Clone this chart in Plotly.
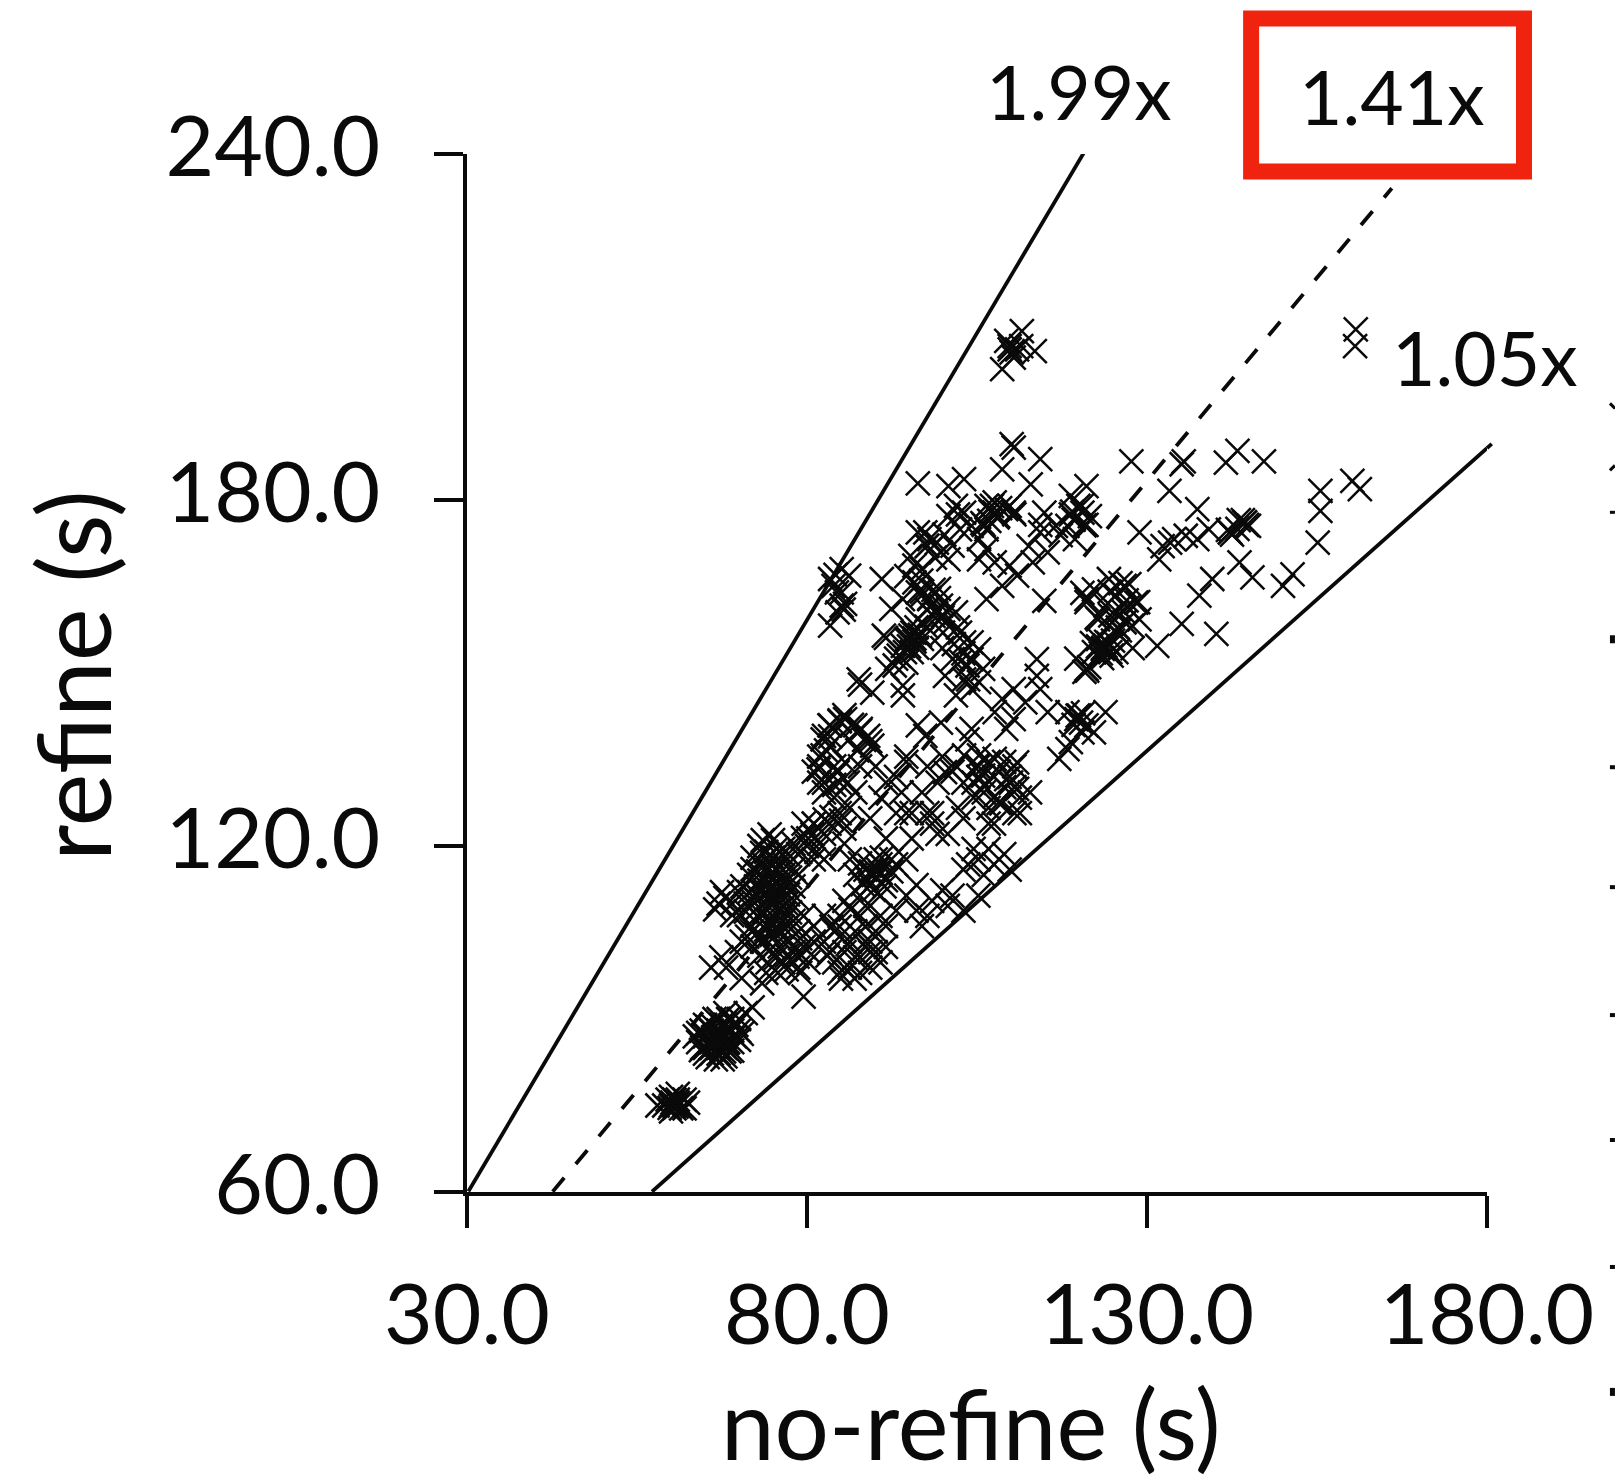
import plotly.graph_objects as go

x_ticks = [30, 80, 130, 180]
y_ticks = [60, 120, 180, 240]
ratios = [1.99, 1.41, 1.05]
ratio_labels = ["1.99x", "1.41x", "1.05x"]

no_refine = [
 111.6,109.8,110.9,110.1,113.5,108.7,110.4,109.3,111.5,109.8,160.7,160.6,
 110.1,110.4,108.7,114.3,127.7,135.4,135.1,141.6,143.3,147.2,96.3,100.8,103.1,112.9,121.1,118.8,133.3,160.2,161.3,155.5,155.5,155.1,137.4,151.4,150,145.5,143.6,144.4,142.2,139.6,137.7,135.1,140.2,131.5,128.9,
 133.4,131.8,135.7,132.3,134,137.4,139.1,
 144.4,144.7,144.1,142.2,142.5,141.9,143.3,145,143.5,
 123.9,123.5,124.3,124.6,125.5,122.8,122.2,121.1,120.8,121.5,121.2,
 121.1,122.2,124.4,126.7,128.4,125.6,123.9,126.7,127.8,124.4,125.6,126.1,120.5,128.9,122.8,
 106.4,107.6,109.3,110.4,106.4,105.3,108.1,109.8,107.6,97.4,98,99.7,96.3,99.1,100.8,103.1,100.8,102.5,104.2,101.9,
 105.3,106.4,107.6,109.8,110.9,108.7,106.4,114.3,114.9,115.4,113.2,112.6,116.6,120.5,119.9,118.3,121.6,119.4,114.9,
 96.3,98,99.7,100.8,98.6,100.3,102.5,104.2,95.8,96.9,95.2,95.8,101.9,94.1,92.4,96.3,95.2,94.8,95.8,95.5,95.8,94.1,93.5,96.9,91.3,92.9,94.6,91,
 85.1,83.9,85.1,83.4,85.1,85.4,83.4,84.5,86.2,
 103.1,105.3,104.2,105.9,100.3,103.1,104.2,101.4,105.3,101.9,103.6,
 87.6,89.6,94.1,91.8,94.1,96.3,99.7,97.4,
 113.8,113.8,114.3,110.4,108.7,112.1,115.4,109.3,107.6,110.4,120,119.6,120.3,118.3,121.1,123.9,122.2,118.8,117.1,120.5,118.3,
 103.6,104.2,105.3,101.9,100.3,107.6,110.9,109.3,105.9,103.1,110.9,
 83.4,85.6,87.9,82.3,83.4,86.2,89,82.3,85.6,89.6,84.5,81.7,
 106.7,110.5,105.2,109,104.5,111.3,106.7,110.5,103,112.8,107.5,108.2,
 97.7,94.6,91.6,93.9,99.2,101.4,98.4,97.7,99.2,93.1,90.8,103,95.4,
 105.2,106.7,103.7,107.5,103,109,106,104.5,109.8,
 89.8,88.6,90.8,89.3,91.6,87.1,93.1,87.8,94.6,90.8,90.1,86.3,
 96.1,98.4,100.7,103,97.7,99.9,94.6,93.1,101.4,105.2,96.9,
 84.8,87.1,89.3,85.5,87.8,90.1,84,86.3,89.3,91.6,82.5,84.8,87.8,90.8,85.5,82.5,88.6,84.8,91.6,
 74.2,76.5,78.7,75,78,76.5,73.4,79.5,75.7,81,71.9,77.2,74.2,78.7,80.2,72.7,79.5,
 74,75,73,76,74.5,73.5,75.5,76.5,72.5,77,74,75,73,76,74,75,72.5,77,78,78,73,76,75,72,74.5,
 69,68,70,67,69,67.5,71,70,66.5,
 68.1,65.9,69.7,71.2,67.4,73.4,70.4,79.5,
 64,65,66,67,68,69,66,67,68,65,64.5,66,67,68,69,66,67,65,70,70,71,69,68,63.5,66,67,68,65,69,72,
 60,61,60.5,61.5,60,59,62,58,61,60.5,62,60.5,
 80.2,78.7,81.8,81,79.5,83.3,84.8,86.3,84,87.1,82.5,81,78,85.5,76.5,89.3,82.5,84,81.8,88.6,87.8,83.3,85.5,87.8,
]
refine = [
 209.3,206.1,206.1,205.6,205.8,202.7,204.7,207.6,206.7,206.7,209.6,206.7,
 189.7,189.1,185.3,187.1,186.7,186.7,186.2,186.5,188.5,186.7,182.9,182.4,183.6,182.7,182.4,180.7,181.6,183.3,181.9,181.6,178.1,172.6,178.4,167.1,165.1,166.6,169.2,176.1,174.4,166.3,163.4,158.5,156.8,154.7,174.4,
 172.6,169.7,173.8,172,173.2,173.2,174.9,
 176.1,175.7,176.5,174.4,174,174.8,175,175.5,176.5,
 154.7,154.2,155.2,153.6,153.6,155.9,153.6,150.7,150.2,151,150.4,
 162.8,164.5,166.3,165.1,162.2,160.5,161.7,158.8,158.2,158.2,157,165.6,163.9,159.3,159.3,
 179,177.8,178.4,177.8,174.9,173.2,177.2,179,179.6,174.4,173.2,170.9,174.4,172.6,169.7,177.8,177.2,174.9,175.5,179,
 169.7,171.5,169.2,168.6,166.9,165.1,162.8,174.4,177.8,170.9,169.2,172,175.5,177.8,179,175.5,177.2,173.2,162.5,
 164,162.8,161.7,161.1,159.9,158.8,157,155.3,165.7,168,170.3,168.6,160.5,162.8,161.1,159.3,156.5,156,155.5,157,157,154.7,153,155.9,156.5,151.3,151.8,166.3,
 168,165.1,164,166.3,161.7,161,158.2,160.5,166.9,
 155.3,154.1,152.4,150.7,149.5,148.9,147.2,152.4,148.4,146.1,151.3,
 148.9,146.6,147.8,150.7,146.1,140.9,141.4,139.1,
 152.4,149.5,147.2,147.2,145.5,144.9,143.2,140.3,143.2,142,142.6,142,141.4,143.2,140.9,143.2,139.7,138,135.1,139.7,136.8,
 138.5,140.3,135.7,133.9,132.8,135.1,134.5,131.6,132.2,135.7,129.9,
 140.9,142,140.3,138.5,137.4,138.5,139.1,135.7,134.5,137.4,132.8,133.3,
 134.6,133.8,132,130.2,128.4,128.4,126.6,125.7,131,129.3,123.9,132.9,
 133.8,134.6,131,129.3,131,132.9,123.9,125.7,122.1,125.7,128.4,124.8,125.7,
 117.7,119.5,116.8,116.8,115.9,118.6,115,119.5,115.9,
 115,115.9,116.8,113.2,114.1,115,116.8,111.4,117.7,111.4,117.7,117.7,
 108.8,110.5,109.6,108.8,107.9,112.3,111.4,108.8,111.4,111.4,106.1,
 104.3,105.2,103.4,101.6,100.7,101.6,99.8,98.9,98.9,106.1,103.4,107.9,107.9,107.9,110.5,107.9,109.6,98,102.5,
 106.1,104.3,105.2,102.5,101.6,99.8,103.4,102.5,107,106.1,105.2,106.1,99.8,98.9,99.8,107.9,107.9,
 112,113,111,112,115,117,116,115,113,113,119,118,114,110,109,110,109,110,113,116,120,119,121,116,107,
 110,111,112,110,108,112,110,108,109,
 98.9,98.9,101.6,104.3,100.7,96.2,97.1,93.9,
 86,85,84,84,85,86,86,86,87,87,88,88,88,89,88,89,90,89,88,90,91,90,91,87,85,85,83.5,84,84.5,92,
 75,75.5,76,74.5,74,75,76,75,77,74.5,74.5,75,
 121.3,118.6,120.4,117.7,123.9,123.9,125.7,126.6,128.4,129.3,122.1,123.9,120.4,123,119.5,124.8,131,133.8,133.8,135.5,140,140.9,142.7,148,
]
# further readings inside the dense clusters, as (no-refine, refine)
dense_pairs = [
 (70.5,113),(71.5,115),(72,118),(73.5,121),(74.5,122),(75.5,119.5),(76.5,117),(77.5,114.5),(78.5,111),(77.5,108.5),
 (76.5,107),(75.5,106),(74,105.5),(73,107.5),(72,110.5),(71.5,112),(73.2,112.4),(74.2,113.6),(75.2,114.4),(73.8,116),
 (74.8,116.6),(75.8,111.4),(76.8,113.8),(72.8,115.6),(74.4,110.6),(75.6,108.8),(73.6,108.6),(76.2,109),(77.2,111.6),
 (74.6,118.4),(73.4,118.8),(75.4,117.2),(76.4,118.6),(72.4,111.8),(71,108.6),(74.6,112.2),(73.8,114),(75,115.4),(74.2,111),(75.8,113),
 (73,101),(74.8,104.6),(76,102.6),(77.4,103.6),(78.6,100.8),(75.4,100.6),(77,98.6),(72,102.6),(79,104),(80,102),(74,98),(76.4,106),(78,107),
 (72.6,104.8),(75.8,105),(77,101),(74.4,101.8),(79,98),
 (64.6,85),(65.6,86),(66.4,87),(67.4,87),(68.4,86),(69.4,87),(66.6,85.6),(67.6,85.6),(65.4,88.6),(66.4,90),(67.4,89),(68.6,88),(69.6,89),
 (64,87.6),(64.4,84.6),(65.4,83.4),(66.6,83),(67.6,83),(68.6,84.4),(70,86.4),(70.4,87.4),(68.4,90),(66.8,86.4),(67.2,87.2),(66.2,86.8),(65.8,85),(67.8,84.4),(68.2,85.8),
 (60.2,75.5),(60.8,74.8),(61.2,75.2),(59.8,74.6),(61,76),(60,76.5),(62.5,75.5),(59.5,76),
 (89.4,115.6),(90.2,114.4),(88.8,114.4),(90.8,115.4),(89.2,116.6),(90.4,116),(88.2,113.4),(91.4,113),(89.8,112.4),(87.8,117),(91,118),(92.4,115.6),
 (95,154.6),(95.8,156),(94.6,155.8),(96.2,154.4),(95.4,153.6),(94.4,153.6),(96.6,156.6),
 (98,163),(99,161),(97.6,161),(99.4,163),(98.6,164.4),(100,160),(97,163.6),
 (107,178),(108,177),(106.8,176.4),(108.4,178.6),(107.2,179),(105.8,176),
 (123.6,154.4),(124,155.4),(123.2,153.4),(124.6,154.8),(122.8,154.6),(124.8,153),(125,155.6),(123.4,152.6),
 (83.4,139),(84.8,141.6),(86.6,141),(88.4,138.4),(87.4,136.6),(82.8,136.6),(81.8,131),(84,130.6),(86,131),
 (80,120),(80.8,122),(79.4,121.4),(81.4,119),(82.6,124.6),(83.6,125),(85,124.4),(79,119),
 (107.6,128.6),(106,130.6),(108.6,127.4),(110,131),(105,134),
 (86,103),(88.6,102.6),(83,101),(85,97),(87,97),(88.6,106),(86.4,109),(83.6,106),
 (125.4,163.4),(126.4,160.8),(127,162.6),(124.6,160),(126,157.4),(127.4,165.4),
 (119.8,142.6),(120.6,143),(119.2,141),
 (119.2,176.6),(120.4,179),(119,178),(120.8,175.6),
 (97.6,158),(99,160.4),(100,157),(101.6,155),(102.6,152),(99.4,164.6),(96.8,166),(97.6,172),(98.8,170),(100.2,174),
 (84.4,164),(85.6,162),(84.2,167),
 # loose clusters
 (84.8,106),(86.3,103.4),(88.6,106),(90.1,105.2),(85.5,98.9),(87.8,98),(90.8,99.8),(89.3,101.6),(83.3,101.6),(87.1,100.7),(84,105.2),(88.6,103.4),
 (105.2,133.8),(107.5,132),(109.8,132),(106,129.3),(108.2,127.5),(110.5,130.2),(104.5,131),(111.3,125.7),(106.7,123.9),(109,134.6),
 (82.5,139.1),(84.8,141.8),(87.1,140.9),(89.3,138.2),(81.8,135.5),(87.8,133.8),(81,132.9),(84.8,131),(90.1,133.8),(82.5,129.3),
 (94.6,135.5),(99.9,135.5),(93.1,132),(96.9,129.3),(98.4,125.7),(102.2,126.6),(100.7,122.1),(95.4,121.3),(91.6,121.3),(94.6,125.7),
 (94.6,166.8),(96.9,164.1),(99.9,159.6),(102.2,157.9),(103,153.4),(103.7,148.9),(99.9,154.3),(93.1,152.5),(91.6,156.1),(97.7,172.1),(96.1,157.9),
 (124.5,164.1),(127.2,161.4),(122.6,159.6),(125.7,157.9),(128.7,162.3),(121.1,162.3),(127.9,154.3),(119.6,152.5),(121.9,155.2),
 (71.9,106.1),(78.7,101.6),(81,103.4),(75.7,98),(70.4,103.4),
 (81,123.9),(78.7,115),(82.5,117.7),(77.2,118.6),
 (106,175.7),(110.5,177.5),(114.3,175.7),(118.8,177.5),(121.1,175.7),(117.3,173.9),(102.2,177.5),(101.4,172.1),
 (92.4,117.7),(85.5,120.4),(96.1,113.2),
]
no_refine = no_refine + [p[0] for p in dense_pairs]
refine = refine + [p[1] for p in dense_pairs]

INK = "#0a0a0a"
fig = go.Figure()
starts = {1.99: 30.2, 1.41: 42.6, 1.05: 57.2}
ends = {1.99: 120.7, 1.41: 166.0, 1.05: 180.0}
for r in ratios:
    xs = [starts[r], ends[r]]
    fig.add_trace(go.Scatter(
        x=xs, y=[v * r for v in xs], mode="lines", showlegend=False,
        line=dict(color=INK, width=3.8, dash="18px,18px" if r == 1.41 else "solid"),
    ))

fig.add_trace(go.Scatter(
    x=no_refine, y=refine, mode="markers", cliponaxis=False, showlegend=False,
    marker=dict(symbol="x-thin", size=24, line=dict(color=INK, width=2.5)),
))

W, H = 1615, 1484
L, R, T, B = 466.5, 1487, 153.5, 1192
FONT = "Lato, Carlito, Calibri, sans-serif"

def px(v): return (v - L) / (R - L)
def py(v): return (B - v) / (B - T)

shapes = [dict(type="rect", xref="paper", yref="paper", x0=px(1251), x1=px(1524), y0=py(18), y1=py(171),
               line=dict(color="#f0230f", width=16), fillcolor="rgba(0,0,0,0)")]
# short tail of the 1.05x line past the right end of the axis
shapes.append(dict(type="line", xref="paper", yref="paper",
                   x0=(180 - 30) / 150, x1=(180.7 - 30) / 150,
                   y0=(180 * 1.05 - 60) / 180, y1=(180.7 * 1.05 - 60) / 180,
                   line=dict(color=INK, width=3.8)))
# pieces of the neighbouring panel's axis at the right-hand edge
for tick_y, w in [(512, 3), (639, 8), (767, 4), (887, 4), (1015, 4), (1140, 4), (1267, 4), (1392, 8)]:
    shapes.append(dict(type="line", xref="paper", yref="paper", x0=px(1610), x1=px(1615), y0=py(tick_y), y1=py(tick_y),
                       line=dict(color=INK, width=w)))
shapes.append(dict(type="line", xref="paper", yref="paper", x0=px(1610), x1=px(1615), y0=py(403), y1=py(408), line=dict(color=INK, width=3)))
shapes.append(dict(type="line", xref="paper", yref="paper", x0=px(1610), x1=px(1615), y0=py(470), y1=py(465), line=dict(color=INK, width=3)))

ann_px = {"1.99x": (1079, 90), "1.41x": (1392, 95), "1.05x": (1485, 357)}
annotations = [dict(xref="paper", yref="paper", x=px(ann_px[t][0]), y=py(ann_px[t][1]), text=t, showarrow=False,
                    font=dict(size=75, family=FONT, color=INK), xanchor="center", yanchor="middle") for t in ratio_labels]
annotations.append(dict(xref="paper", yref="paper", x=px(971), y=py(1423), text="no-refine (s)", showarrow=False,
                        font=dict(size=96, family=FONT, color=INK), xanchor="center", yanchor="middle"))
annotations.append(dict(xref="paper", yref="paper", x=px(72), y=py(675), text="refine (s)", showarrow=False, textangle=-90,
                        font=dict(size=100, family=FONT, color=INK), xanchor="center", yanchor="middle"))

fig.update_layout(
    width=W, height=H, autosize=False, paper_bgcolor="white", plot_bgcolor="white",
    margin=dict(l=L, r=W - R, t=T, b=H - B),
    font=dict(family=FONT, color=INK),
    shapes=shapes, annotations=annotations,
    xaxis=dict(range=[30, 180], tickvals=x_ticks, tickformat=".1f", ticks="outside", ticklen=32, tickwidth=4, tickcolor=INK,
               showline=True, linecolor=INK, linewidth=4, showgrid=False, zeroline=False,
               tickfont=dict(size=84, family=FONT, color=INK), ticklabelstandoff=15),
    yaxis=dict(range=[60, 240], tickvals=y_ticks, tickformat=".1f", ticks="outside", ticklen=29, tickwidth=4, tickcolor=INK,
               showline=True, linecolor=INK, linewidth=4, showgrid=False, zeroline=False,
               tickfont=dict(size=84, family=FONT, color=INK), ticklabelstandoff=37, ticklabelshift=-7),
)
fig.write_html("out.html", config=dict(displayModeBar=False),
               post_script="document.body.style.margin='0';document.documentElement.style.overflow='hidden';")
